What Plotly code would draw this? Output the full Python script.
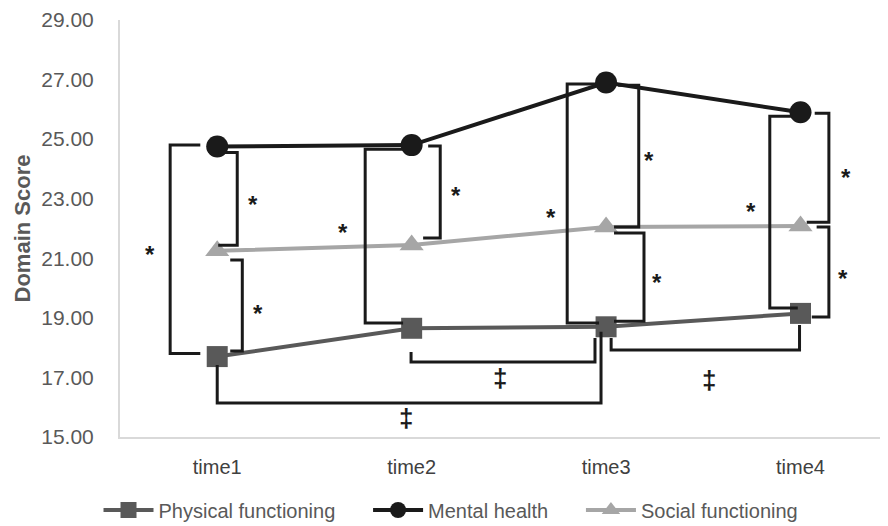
import plotly.graph_objects as go

# ---- data ----
categories = ["time1", "time2", "time3", "time4"]
physical = [17.70, 18.65, 18.70, 19.15]
mental = [24.75, 24.80, 26.90, 25.90]
social = [21.25, 21.45, 22.05, 22.08]
y_ticks = [15, 17, 19, 21, 23, 25, 27, 29]
series_names = ["Physical functioning", "Mental health", "Social functioning"]

S = {"physical": physical, "mental": mental, "social": social}

# vertical brackets: (category index, top series, top offset, bottom series, bottom offset,
#                     bar x offset, top arm x offset, bottom arm x offset)
v_brackets = [
    (0, "mental", 0.05, "physical", 0.10, -0.242, -0.087, -0.087),
    (0, "mental", -0.20, "social", 0.19, 0.103, 0.005, 0.005),
    (0, "social", -0.31, "physical", 0.19, 0.129, 0.067, 0.067),
    (1, "mental", -0.14, "physical", 0.18, -0.239, -0.044, -0.044),
    (1, "mental", -0.03, "social", 0.23, 0.147, 0.085, 0.059),
    (2, "mental", -0.05, "physical", 0.13, -0.200, -0.036, -0.036),
    (2, "mental", -0.09, "social", 0.00, 0.168, 0.062, 0.041),
    (2, "social", -0.20, "physical", 0.19, 0.195, 0.041, 0.041),
    (3, "mental", -0.13, "physical", 0.18, -0.158, -0.040, -0.014),
    (3, "mental", -0.03, "social", 0.13, 0.146, 0.073, 0.032),
    (3, "social", -0.03, "physical", -0.12, 0.146, 0.083, 0.058),
]
# horizontal (U) brackets on physical: (start idx, start x off, start y off, end idx, end x off, end y off, low level)
h_brackets = [
    (0, 0.000, -0.28, 2, -0.026, -0.17, 16.14),
    (1, -0.003, -0.80, 2, -0.057, -0.38, 17.52),
    (2, 0.026, -0.38, 3, -0.005, -0.39, 17.92),
]
stars = [(-0.344, 21.28), (0.185, 22.99), (0.211, 19.33), (0.648, 22.05), (1.229, 23.29),
         (1.717, 22.55), (2.221, 24.46), (2.262, 20.37), (2.744, 22.75), (3.232, 23.89),
         (3.217, 20.50)]
daggers = [(0.972, 15.64), (1.454, 16.98), (2.530, 16.91)]

# legend gap padding (non-breaking spaces after the first two entries)
pad = "\u00a0" * 5
legend_labels = [series_names[0] + pad, series_names[1] + pad, series_names[2]]

fig = go.Figure()
fig.add_trace(go.Scatter(x=categories, y=physical, name=legend_labels[0], mode="lines+markers",
                         line=dict(color="#595959", width=4),
                         marker=dict(symbol="square", size=21, color="#595959")))
fig.add_trace(go.Scatter(x=categories, y=mental, name=legend_labels[1], mode="lines+markers",
                         line=dict(color="#1a1a1a", width=4),
                         marker=dict(symbol="circle", size=22, color="#1a1a1a")))
fig.add_trace(go.Scatter(x=categories, y=social, name=legend_labels[2], mode="lines+markers",
                         line=dict(color="#a6a6a6", width=4),
                         marker=dict(symbol="triangle-up", size=21, color="#a6a6a6")))

shapes = []
for (i, ts, to, bs, bo, bx, atx, abx) in v_brackets:
    yt = S[ts][i] + to
    yb = S[bs][i] + bo
    path = (f"M {i + atx},{yt} L {i + bx},{yt} L {i + bx},{yb} L {i + abx},{yb}")
    shapes.append(dict(type="path", path=path, xref="x", yref="y",
                       line=dict(color="#1a1a1a", width=3)))
for (i1, x1o, y1o, i2, x2o, y2o, low) in h_brackets:
    y1 = physical[i1] + y1o
    y2 = physical[i2] + y2o
    path = (f"M {i1 + x1o},{y1} L {i1 + x1o},{low} L {i2 + x2o},{low} L {i2 + x2o},{y2}")
    shapes.append(dict(type="path", path=path, xref="x", yref="y",
                       line=dict(color="#1a1a1a", width=3)))

annotations = []
for (x, y) in stars:
    annotations.append(dict(x=x, y=y, xref="x", yref="y", text="<b>*</b>", showarrow=False,
                            font=dict(family="Liberation Sans, Arial", size=24, color="#1a1a1a"),
                            yshift=-5))
for (x, y) in daggers:
    annotations.append(dict(x=x, y=y, xref="x", yref="y", text="<b>‡</b>", showarrow=False,
                            font=dict(family="Liberation Sans, Arial", size=26, color="#1a1a1a")))

fig.update_layout(
    width=880, height=518,
    margin=dict(l=112, r=0, t=12, b=89, autoexpand=False),
    paper_bgcolor="white", plot_bgcolor="white",
    font=dict(family="Liberation Sans, Arial", color="#595959", size=18),
    showlegend=True,
    legend=dict(orientation="h", x=0.431, xref="paper", xanchor="center",
                y=-0.175, yanchor="middle", font=dict(size=20, color="#595959"),
                itemwidth=50, tracegroupgap=0),
    shapes=shapes,
    annotations=annotations,
)
fig.update_xaxes(range=[-0.5, 3.45], showline=True, linecolor="#d9d9d9", linewidth=2,
                 showgrid=False, ticks="", ticklabelstandoff=11,
                 tickfont=dict(size=20, color="#404040"), zeroline=False)
fig.update_yaxes(range=[15, 29], tickvals=y_ticks, ticktext=[f"{v:.2f}" for v in y_ticks],
                 showline=True, linecolor="#d9d9d9", linewidth=2, showgrid=False, ticks="",
                 ticklabelstandoff=20, tickfont=dict(size=21, color="#595959"), zeroline=False,
                 title=dict(text="<b>Domain Score</b>", standoff=5,
                            font=dict(size=22, color="#595959")))

fig.write_html("out.html")
